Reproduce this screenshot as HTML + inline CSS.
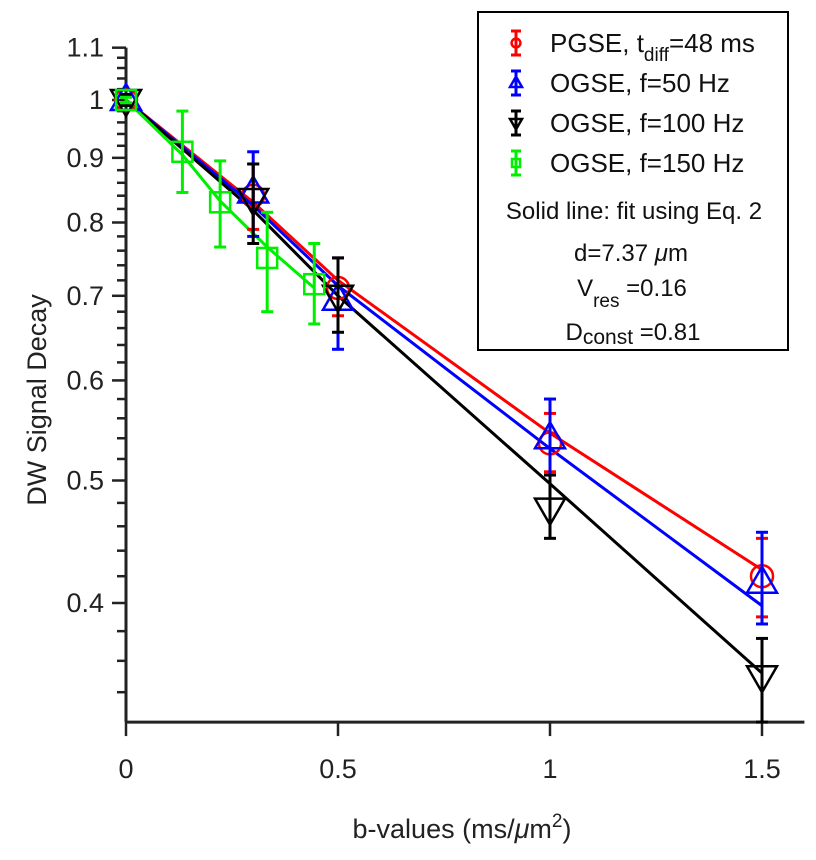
<!DOCTYPE html>
<html><head><meta charset="utf-8"><style>
body{margin:0;background:#fff;}
svg{display:block;font-family:"Liberation Sans",Arial,sans-serif;}
</style></head><body>
<svg id="chart" width="816" height="860">
<g id="axes"></g><g id="series"></g>
<g id="legend">
<rect x="478" y="12" width="310" height="338" fill="#fff" stroke="#000" stroke-width="2"/>
</g>
<text x="462" y="838" font-size="27" text-anchor="middle" fill="#222">b-values (ms/<tspan font-style="italic">μ</tspan>m<tspan dy="-11" font-size="19">2</tspan><tspan dy="11">)</tspan></text>
<text transform="translate(46,400) rotate(-90)" font-size="27" text-anchor="middle" fill="#222">DW Signal Decay</text>
</svg>
<script>
const xTicks=[0,0.5,1,1.5];
const xTickLabels=["0","0.5","1","1.5"];
const yTicks=[0.4,0.5,0.6,0.7,0.8,0.9,1,1.1];
const yTickLabels=["0.4","0.5","0.6","0.7","0.8","0.9","1","1.1"];
const bOgse=[0,0.3,0.5,1,1.5];
const bGreen=[0,0.133,0.222,0.333,0.444];
const pgseY=[1,0.84,0.71,0.535,0.42];
const pgseHi=[1.01,0.89,0.75,0.565,0.45];
const pgseLo=[0.99,0.79,0.675,0.508,0.39];
const pgseFit=[1,0.83,0.72,0.545,0.425];
const f50Y=[1,0.845,0.695,0.54,0.415];
const f50Hi=[1.01,0.91,0.75,0.58,0.455];
const f50Lo=[0.99,0.78,0.635,0.505,0.385];
const f50Fit=[1,0.825,0.713,0.53,0.398];
const f100Y=[1,0.835,0.7,0.475,0.35];
const f100Hi=[1.01,0.89,0.75,0.505,0.375];
const f100Lo=[0.99,0.77,0.655,0.45,0.322];
const f100Fit=[1,0.818,0.70,0.497,0.352];
const f150Y=[1,0.91,0.83,0.75,0.715];
const f150Hi=[1.005,0.98,0.895,0.815,0.77];
const f150Lo=[0.995,0.845,0.765,0.68,0.665];
const f150Fit=[1,0.905,0.832,0.765,0.71];

const NS="http://www.w3.org/2000/svg";
const X0=126,PX=424,Y1=100,DEC=1264,YMIN=0.322,YMAX=1.1;
const sx=v=>X0+v*PX;
const sy=v=>Y1-Math.log10(v)*DEC;
function mk(tag,attrs,parent){const e=document.createElementNS(NS,tag);for(const k in attrs)e.setAttribute(k,attrs[k]);parent.appendChild(e);return e;}
const axes=document.getElementById('axes');
const xl=mk('line',{x1:X0,x2:sx(1.6),y1:sy(YMIN),y2:sy(YMIN),stroke:'#222','stroke-width':3},axes);


const yl=mk('line',{x1:X0,x2:X0,y1:sy(YMIN),y2:sy(YMAX),stroke:'#222','stroke-width':3},axes);


xTicks.forEach((t,i)=>{
 mk('line',{x1:sx(t),x2:sx(t),y1:sy(YMIN),y2:sy(YMIN)+14,stroke:'#222','stroke-width':2.5},axes);
 const tx=mk('text',{x:sx(t),y:sy(YMIN)+56,'font-size':27,'text-anchor':'middle',fill:'#222'},axes);
 tx.textContent=xTickLabels[i];
 
 
});
for(let k=34;k<=110;k+=2){
 const r=k/100;
 const maj=(k%10===0);
 mk('line',{x1:X0-(maj?14:9),x2:X0,y1:sy(r),y2:sy(r),stroke:'#222','stroke-width':2.5},axes);
}
yTicks.forEach((t,i)=>{
 const tx=mk('text',{x:X0-22,y:sy(t)+9,'font-size':27,'text-anchor':'end',fill:'#222'},axes);
 tx.textContent=yTickLabels[i];
 
 
});
const ser=document.getElementById('series');
function line(xs,ys,col,name){
 const p=mk('polyline',{points:xs.map((x,i)=>sx(x)+','+sy(ys[i])).join(' '),fill:'none',stroke:col,'stroke-width':3},ser);
 
 
}
function marker(shape,cx,cy,col,g,s){
 s=s||1;
 if(shape==='o') mk('circle',{cx:cx,cy:cy,r:11*s,fill:'none',stroke:col,'stroke-width':2.5},g);
 else if(shape==='^') mk('polygon',{points:`${cx},${cy-16*s} ${cx-15*s},${cy+10*s} ${cx+15*s},${cy+10*s}`,fill:'none',stroke:col,'stroke-width':2.5},g);
 else if(shape==='v') mk('polygon',{points:`${cx},${cy+16*s} ${cx-15*s},${cy-10*s} ${cx+15*s},${cy-10*s}`,fill:'none',stroke:col,'stroke-width':2.5},g);
 else mk('rect',{x:cx-10*s,y:cy-10*s,width:20*s,height:20*s,fill:'none',stroke:col,'stroke-width':2.5},g);
}
function points(xs,ys,hi,lo,col,shape,name){
 xs.forEach((x,i)=>{
  const g=mk('g',{},ser);
  
  
  const cx=sx(x);
  mk('line',{x1:cx,x2:cx,y1:sy(hi[i]),y2:sy(lo[i]),stroke:col,'stroke-width':3},g);
  mk('line',{x1:cx-6,x2:cx+6,y1:sy(hi[i]),y2:sy(hi[i]),stroke:col,'stroke-width':3},g);
  mk('line',{x1:cx-6,x2:cx+6,y1:sy(lo[i]),y2:sy(lo[i]),stroke:col,'stroke-width':3},g);
  marker(shape,cx,sy(ys[i]),col,g);
 });
}
line(bOgse,pgseFit,'#ff0000','pgse-fit-line');
line(bOgse,f50Fit,'#0000ff','ogse-50hz-fit-line');
line(bOgse,f100Fit,'#000','ogse-100hz-fit-line');
line(bGreen,f150Fit,'#00ee00','ogse-150hz-fit-line');
points(bOgse,pgseY,pgseHi,pgseLo,'#ff0000','o','pgse');
points(bOgse,f50Y,f50Hi,f50Lo,'#0000ff','^','ogse-50hz');
points(bOgse,f100Y,f100Hi,f100Lo,'#000','v','ogse-100hz');
points(bGreen,f150Y,f150Hi,f150Lo,'#00ee00','s','ogse-150hz');

const lg=document.getElementById('legend');
const entries=[['#ff0000','o','PGSE, t','pgse'],['#0000ff','^','OGSE, f=50 Hz','ogse-50hz'],['#000','v','OGSE, f=100 Hz','ogse-100hz'],['#00ee00','s','OGSE, f=150 Hz','ogse-150hz']];
entries.forEach((e,i)=>{
 const y=[43,83,123,163][i];
 const g=mk('g',{},lg);
 
 
 const cx=516;
 mk('line',{x1:cx,x2:cx,y1:y-12,y2:y+12,stroke:e[0],'stroke-width':3},g);
 mk('line',{x1:cx-5,x2:cx+5,y1:y-12,y2:y-12,stroke:e[0],'stroke-width':3},g);
 mk('line',{x1:cx-5,x2:cx+5,y1:y+12,y2:y+12,stroke:e[0],'stroke-width':3},g);
 marker(e[1],cx,y,e[0],g,0.4);
 const t=mk('text',{x:550,y:y+9,'font-size':26,fill:'#111'},g);
 if(i===0){t.innerHTML='PGSE, t<tspan dy="9" font-size="19">diff</tspan><tspan dy="-9">=48 ms</tspan>';}
 else t.textContent=e[2];
});
function lt(x,y,html,name){const t=mk('text',{x:x,y:y,'font-size':24,'text-anchor':'middle',fill:'#111'},lg);t.innerHTML=html;}
lt(634,219,'Solid line: fit using Eq. 2','fit-note');
lt(631,261,'d=7.37 <tspan font-style="italic">μ</tspan>m','d-value');
lt(632,296,'V<tspan dy="11" font-size="19">res</tspan><tspan dy="-11"> =0.16</tspan>','vres-value');
lt(633,340,'D<tspan dy="4" font-size="21">const</tspan><tspan dy="-4"> =0.81</tspan>','dconst-value');
</script>
</body></html>
